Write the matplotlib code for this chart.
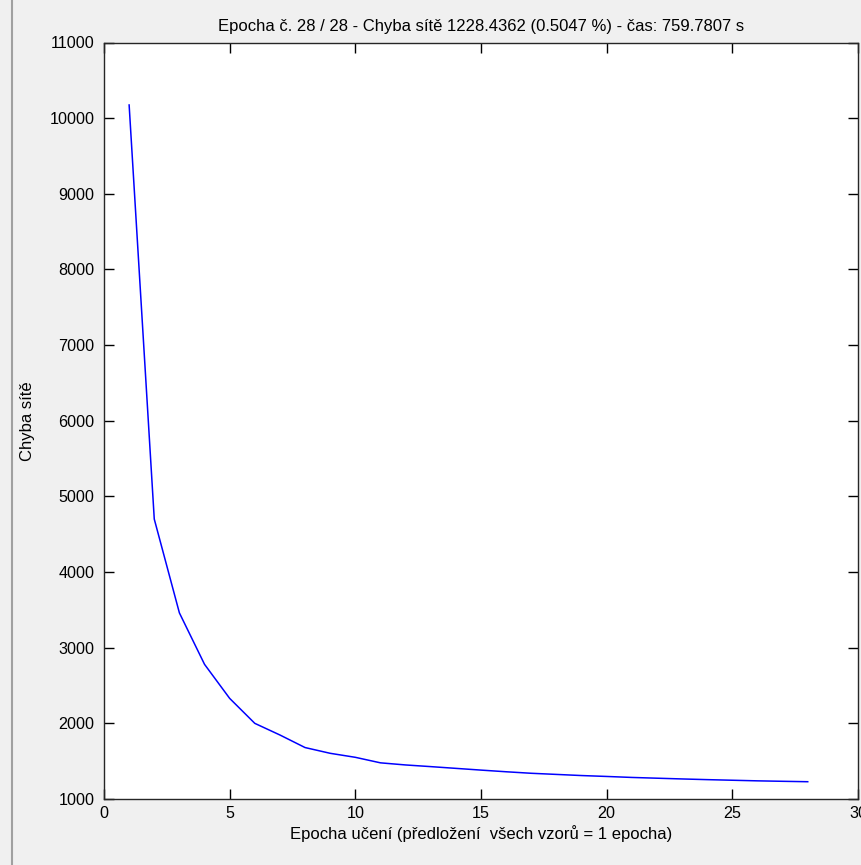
import matplotlib
matplotlib.use("Agg")
import matplotlib.pyplot as plt
from matplotlib.lines import Line2D

plt.rcParams['font.family'] = ['Liberation Sans', 'DejaVu Sans']

# Training error per epoch
epochs = list(range(1, 29))
errors = [10174, 4700, 3460, 2780, 2330, 2000, 1846, 1680, 1604, 1551,
          1478, 1450, 1428, 1405, 1382, 1360, 1340, 1325, 1310, 1298,
          1285, 1275, 1265, 1256, 1248, 1240, 1234, 1228.4362]

x_ticks = [0, 5, 10, 15, 20, 25, 30]
y_ticks = list(range(1000, 11001, 1000))

title = "Epocha č. 28 / 28 - Chyba sítě 1228.4362 (0.5047 %) - čas: 759.7807 s"
xlabel = "Epocha učení (předložení  všech vzorů = 1 epocha)"
ylabel = "Chyba sítě"

W, H = 861, 865
fig = plt.figure(figsize=(W / 100, H / 100), dpi=100, facecolor='#f0f0f0')
ax = fig.add_axes([104 / W, 1 - 799 / H, (858 - 104) / W, (799 - 42.5) / H])
ax.set_facecolor('white')

ax.plot(epochs, errors, color=(0, 0, 1), lw=1.1)

ax.set_xlim(0, 30)
ax.set_ylim(1000, 11000)
ax.set_xticks(x_ticks)
ax.set_yticks(y_ticks)
ax.tick_params(direction='in', length=7, width=1.0, top=True, right=True,
               labelsize=11.6, colors='black')
ax.tick_params(axis='y', pad=7)
ax.tick_params(axis='x', pad=5)
for s in ax.spines.values():
    s.set_linewidth(1.0)
    s.set_color('#262626')

ax.set_title(title, fontsize=12, pad=8)
ax.set_xlabel(xlabel, fontsize=12, labelpad=3)
ax.set_ylabel(ylabel, fontsize=12, labelpad=10)

# window frame edge on the left
fig.add_artist(Line2D([12 / W, 12 / W], [0, 1], color='#a0a0a0', lw=1.5,
                      transform=fig.transFigure))

fig.savefig('out.png', dpi=100, facecolor=fig.get_facecolor())
